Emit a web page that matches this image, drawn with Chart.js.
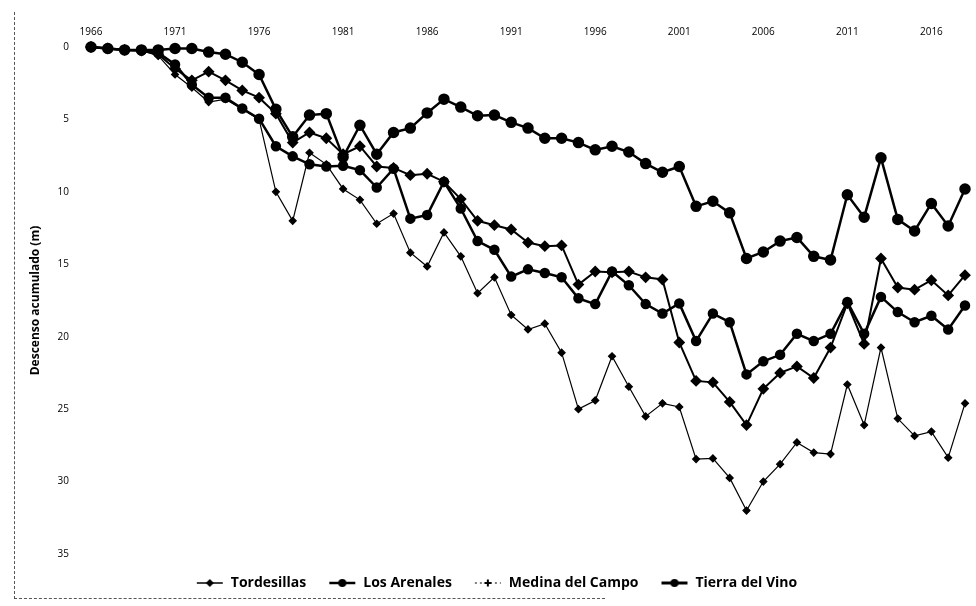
<!DOCTYPE html>
<html>
<head>
<meta charset="utf-8">
<script src="https://cdn.jsdelivr.net/npm/chart.js@4/dist/chart.umd.min.js"></script>
<style>
  html, body { margin: 0; padding: 0; background: #fff; }
  #wrap { position: relative; width: 976px; height: 606px; }
  #frame { position: absolute; left: 14px; top: 12px; width: 590px; height: 586px;
           border-left: 1px dashed #555; border-bottom: 1px dashed #555; }
  canvas { position: absolute; left: 0; top: 0; }
</style>
</head>
<body>
<div id="wrap">
  <div id="frame"></div>
  <canvas id="chart" width="976" height="606"></canvas>
</div>
<script>
// años (1966-2018)
const years = [1966, 1967, 1968, 1969, 1970, 1971, 1972, 1973, 1974, 1975,
               1976, 1977, 1978, 1979, 1980, 1981, 1982, 1983, 1984, 1985,
               1986, 1987, 1988, 1989, 1990, 1991, 1992, 1993, 1994, 1995,
               1996, 1997, 1998, 1999, 2000, 2001, 2002, 2003, 2004, 2005,
               2006, 2007, 2008, 2009, 2010, 2011, 2012, 2013, 2014, 2015,
               2016, 2017, 2018];
const tickYears = [1966, 1971, 1976, 1981, 1986, 1991, 1996, 2001, 2006, 2011, 2016];
const yTicks = [0, 5, 10, 15, 20, 25, 30, 35];

// descenso acumulado (m) por zona
const tordesillas = [0, 0.1, 0.2, 0.25, 0.5, 1.5, 2.3, 1.7, 2.3, 3.0,
                     3.5, 4.6, 6.6, 5.9, 6.3, 7.4, 6.85, 8.25, 8.35, 8.85,
                     8.75, 9.3, 10.5, 12.0, 12.3, 12.6, 13.5, 13.75, 13.7, 16.4,
                     15.5, 15.55, 15.5, 15.9, 16.05, 20.4, 23.05, 23.15, 24.5, 26.1,
                     23.6, 22.5, 22.05, 22.85, 20.75, 17.7, 20.5, 14.6, 16.6, 16.75,
                     16.1, 17.15, 15.75];
const losArenales = [0, 0.1, 0.2, 0.25, 0.4, 1.2, 2.6, 3.5, 3.5, 4.25,
                     4.95, 6.85, 7.55, 8.1, 8.25, 8.2, 8.5, 9.7, 8.4, 11.85,
                     11.6, 9.3, 11.15, 13.4, 14.0, 15.85, 15.35, 15.6, 15.9, 17.35,
                     17.75, 15.5, 16.45, 17.75, 18.4, 17.7, 20.3, 18.4, 19.0, 22.6,
                     21.7, 21.25, 19.8, 20.3, 19.8, 17.6, 19.8, 17.25, 18.3, 19.0,
                     18.55, 19.5, 17.85];
const medinaDelCampo = [0, 0.1, 0.2, 0.25, 0.6, 1.9, 2.8, 3.8, 3.6, 4.3,
                        5.0, 10.0, 12.0, 7.3, 8.1, 9.8, 10.55, 12.2, 11.5, 14.2,
                        15.15, 12.8, 14.45, 17.0, 15.9, 18.5, 19.5, 19.1, 21.1, 25.0,
                        24.4, 21.35, 23.45, 25.5, 24.6, 24.85, 28.45, 28.4, 29.75, 32.0,
                        30.0, 28.8, 27.3, 28.0, 28.1, 23.3, 26.1, 20.75, 25.65, 26.85,
                        26.55, 28.35, 24.6];
const tierraDelVino = [0, 0.1, 0.2, 0.2, 0.2, 0.1, 0.1, 0.35, 0.5, 1.05,
                       1.9, 4.3, 6.2, 4.7, 4.6, 7.6, 5.4, 7.4, 5.9, 5.6,
                       4.55, 3.6, 4.15, 4.75, 4.7, 5.2, 5.6, 6.3, 6.3, 6.6,
                       7.1, 6.85, 7.25, 8.05, 8.65, 8.25, 11.0, 10.65, 11.45, 14.6,
                       14.15, 13.4, 13.15, 14.45, 14.7, 10.2, 11.75, 7.65, 11.9, 12.7,
                       10.8, 12.35, 9.8];

const seriesNames = ['Tordesillas', 'Los Arenales', 'Medina del Campo', 'Tierra del Vino'];

// icono de leyenda: línea con marcador
function legendIcon(shape, lineW, r, dashed) {
    const c = document.createElement('canvas');
    c.width = 28; c.height = 12;
    const g = c.getContext('2d');
    g.strokeStyle = '#000';
    g.fillStyle = '#000';
    g.lineWidth = lineW;
    if (dashed) g.setLineDash([2, 3]);
    g.beginPath(); g.moveTo(1, 6); g.lineTo(27, 6); g.stroke();
    g.setLineDash([]);
    g.beginPath();
    if (shape === 'circle') {
        g.arc(14, 6, r, 0, Math.PI * 2);
    } else if (shape === 'cross') {
        g.lineWidth = 2;
        g.moveTo(14 - r, 6); g.lineTo(14 + r, 6);
        g.moveTo(14, 6 - r); g.lineTo(14, 6 + r);
        g.stroke();
        return c;
    } else {
        g.moveTo(14, 6 - r); g.lineTo(14 + r, 6); g.lineTo(14, 6 + r); g.lineTo(14 - r, 6);
        g.closePath();
    }
    g.fill();
    return c;
}
const icons = [
    legendIcon('diamond', 1.5, 4),
    legendIcon('circle', 2.5, 4),
    legendIcon('cross', 1, 3.5, true),
    legendIcon('circle', 3, 4)
];

const ctx = document.getElementById('chart').getContext('2d');
new Chart(ctx, {
    type: 'line',
    data: {
        labels: years,
        datasets: [
            { label: seriesNames[0], data: tordesillas, borderColor: '#000', backgroundColor: '#000',
              borderWidth: 2, pointStyle: 'rectRot', pointRadius: 4.5, tension: 0, clip: false },
            { label: seriesNames[1], data: losArenales, borderColor: '#000', backgroundColor: '#000',
              borderWidth: 2.5, pointStyle: 'circle', pointRadius: 4, tension: 0, clip: false },
            { label: seriesNames[2], data: medinaDelCampo, borderColor: '#000', backgroundColor: '#000',
              borderWidth: 1.2, pointStyle: 'rectRot', pointRadius: 3.5, tension: 0, clip: false },
            { label: seriesNames[3], data: tierraDelVino, borderColor: '#000', backgroundColor: '#000',
              borderWidth: 2.5, pointStyle: 'circle', pointRadius: 4.5, tension: 0, clip: false }
        ]
    },
    options: {
        responsive: false,
        animation: false,
        layout: { padding: { left: 28, right: 11, top: 0, bottom: 6 } },
        scales: {
            x: {
                position: 'top',
                offset: false,
                grid: { display: false, drawTicks: false },
                border: { display: false },
                ticks: {
                    autoSkip: false, maxRotation: 0, padding: 9, color: '#000',
                    font: { family: 'Open Sans', size: 10 },
                    callback: (v, i) => tickYears.includes(years[i]) ? years[i] : ''
                },
                afterFit: s => { s.height = 47; }
            },
            y: {
                reverse: true, min: 0, max: 35,
                afterBuildTicks: s => { s.ticks = yTicks.map(v => ({ value: v })); },
                grid: { display: false, drawTicks: false },
                border: { display: false },
                ticks: { padding: 22, color: '#000', font: { family: 'Open Sans', size: 10 } },
                title: { display: true, text: 'Descenso acumulado (m)', color: '#000',
                         font: { family: 'Open Sans', size: 12, weight: 'bold' }, padding: { top: 0, bottom: 0 } },
                afterFit: s => { s.width = 63; }
            }
        },
        plugins: {
            tooltip: { enabled: false },
            legend: {
                position: 'bottom',
                labels: {
                    usePointStyle: true,
                    pointStyleWidth: 28,
                    padding: 22,
                    color: '#000',
                    font: { family: 'Open Sans', size: 14, weight: 'bold' },
                    generateLabels: chart => chart.data.datasets.map((ds, i) => ({
                        text: ds.label, pointStyle: icons[i], fillStyle: '#000', strokeStyle: '#000',
                        lineWidth: 0, hidden: false, datasetIndex: i
                    }))
                }
            }
        }
    }
});
</script>
</body>
</html>
